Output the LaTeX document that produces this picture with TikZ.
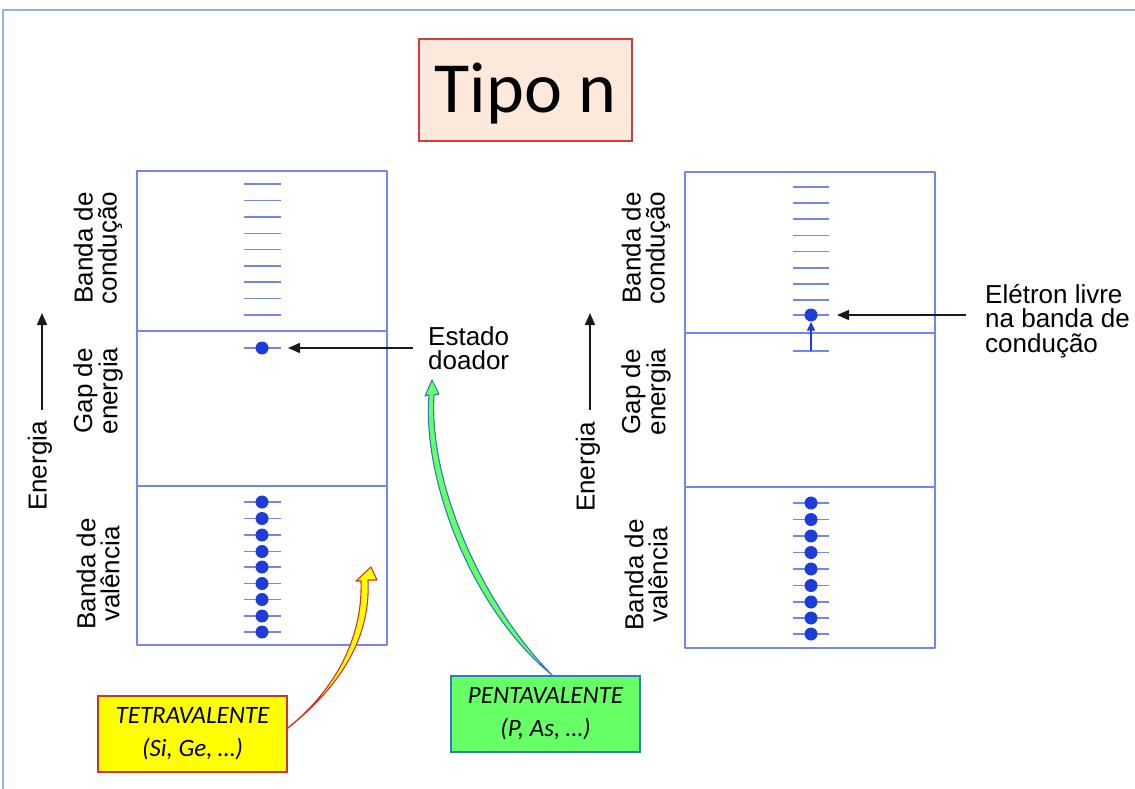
\documentclass[tikz,border=0pt]{standalone}
\usepackage{fontspec}
\setmainfont{Liberation Sans}
\newfontfamily\calibri{Carlito}
\usetikzlibrary{arrows.meta,calc}

\definecolor{framecol}{HTML}{95B3D7}
\definecolor{bandcol}{HTML}{7585EE}
\definecolor{dotcol}{HTML}{1E3CD8}
\definecolor{titlefill}{HTML}{FDE9DB}
\definecolor{titledraw}{HTML}{D23C3C}
\definecolor{pointcol}{HTML}{1A1A1A}
\definecolor{tetrafill}{HTML}{FFFF00}
\definecolor{tetradraw}{HTML}{D2322D}
\definecolor{pentafill}{HTML}{66FF66}
\definecolor{pentadraw}{HTML}{2E7BC4}

\begin{document}
\begin{tikzpicture}[x=1pt,y=-1pt,
  bandbox/.style={draw=bandcol, line width=1.7pt, line join=round},
  level/.style={draw=bandcol, line width=1.8pt},
  electron/.style={circle, fill=dotcol, inner sep=0pt, minimum size=13pt},
  bandlabel/.style={font=\fontsize{26}{24}\selectfont, align=center, inner sep=0pt, rotate=90},
  callout/.style={font=\fontsize{26}{24.5}\selectfont, align=left, inner sep=0pt},
  pointer/.style={draw=pointcol, line width=1.6pt, -{Triangle[length=12pt,width=10pt]}},
  tagbox/.style={minimum width=189pt, minimum height=76pt, line width=1.2pt, align=center,
                 font=\calibri\itshape\fontsize{25}{33}\selectfont},
]
\useasboundingbox (0,0) rectangle (1135,789);

% slide frame (top and left edges)
\draw[framecol, line width=2pt] (3,789) -- (3,10) -- (1135,10);

% title
\node[draw=titledraw, fill=titlefill, line width=1.5pt, minimum width=213pt, minimum height=102pt,
      text height=46pt, text depth=0pt, font=\calibri\fontsize{72}{72}\selectfont]
  (title) at (525.5,90) {Tipo n};

% ---------- left diagram: semiconductor with donor level ----------
\draw[bandbox] (137,171) rectangle (387,645);
\draw[bandbox] (137,331) -- (387,331);
\draw[bandbox] (137,486) -- (387,486);

\foreach \y in {184,200.5,217,233.5,249.5,266,282,298.5,315}
  \draw[level] (244,\y) -- (281,\y);

\draw[level] (244,348) -- (281,348);
\node[electron] (ldonor) at (262,348) {};
\coordinate (ldonorend) at (288,348);

\foreach \y [count=\i] in {502,518.5,535,551.5,567,583.5,599.5,616,632} {
  \draw[level] (244,\y) -- (281,\y);
  \node[electron] (lv\i) at (262,\y) {};
}

\node[bandlabel] (lcondlab) at (98,248) {Banda de\\condução};
\node[bandlabel] (lgaplab)  at (98,391) {Gap de\\energia};
\node[bandlabel] (lvallab)  at (98,574) {Banda de\\valência};
\node[bandlabel] (lenlab)   at (40,466) {Energia};
\coordinate (le0) at (42,410);
\coordinate (le1) at (42,313);
\draw[pointer] (le0) -- (le1);

\node[callout, anchor=west] (estado) at (428,348) {Estado\\doador};
\draw[pointer] ($(estado.west)+(-15,0)$) -- (ldonorend);

% ---------- right diagram: electron excited to conduction band ----------
\draw[bandbox] (685,172) rectangle (935,648);
\draw[bandbox] (685,333) -- (935,333);
\draw[bandbox] (685,487) -- (935,487);

\foreach \y in {187,203,219,235.5,251.5,268,284,300}
  \draw[level] (793,\y) -- (829,\y);

\draw[level] (793,315) -- (829,315);
\node[electron] (rfree) at (811,315) {};
\coordinate (rfreeend) at (837,315);
\draw[level] (793,351) -- (829,351);
\coordinate (rdonor) at (811,351);
\draw[draw=dotcol, line width=1.5pt, -{Triangle[length=9pt,width=8pt]}] (rdonor) -- (rfree.south);

\foreach \y [count=\i] in {503,519.5,536,552.5,569,585.5,602,618,634} {
  \draw[level] (793,\y) -- (829,\y);
  \node[electron] (rv\i) at (811,\y) {};
}

\node[bandlabel] (rcondlab) at (646,248) {Banda de\\condução};
\node[bandlabel] (rgaplab)  at (646,392) {Gap de\\energia};
\node[bandlabel] (rvallab)  at (646,575) {Banda de\\valência};
\node[bandlabel] (renlab)   at (588,467) {Energia};
\coordinate (re0) at (590,410);
\coordinate (re1) at (590,313);
\draw[pointer] (re0) -- (re1);

\node[callout, anchor=west] (livre) at (985,321) {Elétron livre\\na banda de\\condução};
\draw[pointer] ($(livre.west |- rfree)+(-19,0)$) -- (rfreeend);

% ---------- dopant tags with curved arrows ----------
\node[tagbox, draw=tetradraw, fill=tetrafill] (tetra) at (192.5,734) {TETRAVALENTE\\(Si, Ge, …)};
\node[tagbox, draw=pentadraw, fill=pentafill] (penta) at (545.5,714) {PENTAVALENTE\\(P, As, …)};

\filldraw[fill=tetrafill, draw=tetradraw, line width=1.1pt, line join=round]
  (tetra.east) ++(0,-6)
  .. controls (333,692) and (363,640) .. (361,581)
  -- (356,581) -- (371,567) -- (377,580) -- (368,580)
  .. controls (371,640) and (338,688) .. (288,728) -- cycle;

\filldraw[fill=pentafill, draw=pentadraw, line width=1.1pt, line join=round]
  (penta.north) ++(7,0)
  .. controls (472,610) and (422,480) .. (429,395)
  -- (425,396) -- (432,380) -- (439,394) -- (434,395)
  .. controls (429,480) and (478,600) .. (553,676) -- cycle;
\end{tikzpicture}
\end{document}
